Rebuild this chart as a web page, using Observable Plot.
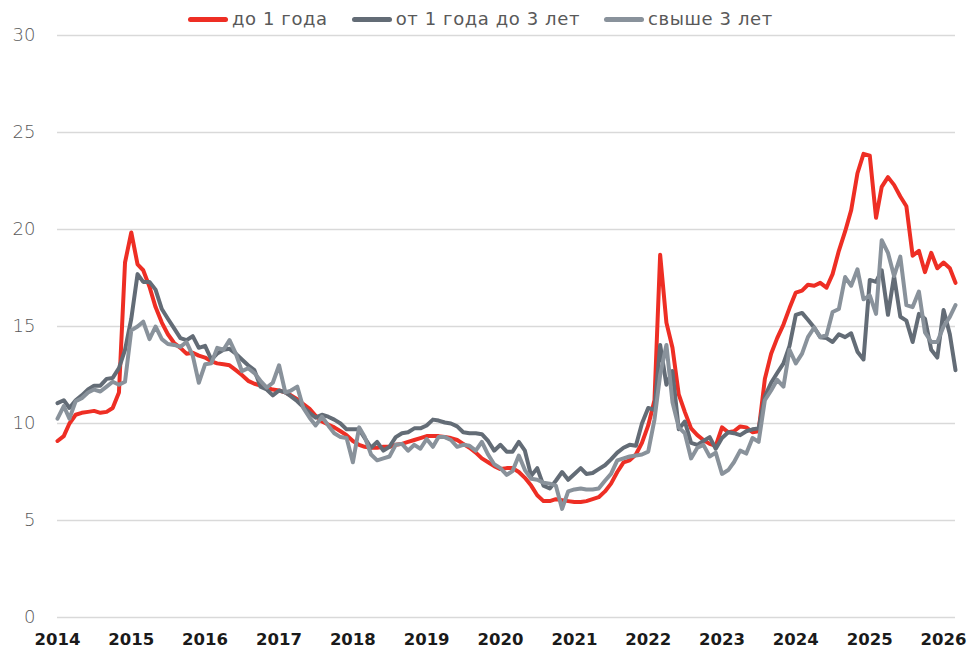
<!DOCTYPE html>
<html>
<head>
<meta charset="utf-8">
<script src="https://cdn.jsdelivr.net/npm/d3@7"></script>
<script src="https://cdn.jsdelivr.net/npm/@observablehq/plot@0.6"></script>
<style>
  body { margin: 0; background: #fff; }
  #wrap { position: relative; width: 970px; height: 653px; overflow: hidden; }
  #legend { position: absolute; top: 8px; left: 188px; display: flex; gap: 24px;
            font-family: "DejaVu Sans", sans-serif; font-size: 18px; letter-spacing: 0.6px;
            color: #595959; line-height: 22px; }
  .item { display: flex; align-items: center; }
  .sw { width: 40px; height: 5px; border-radius: 3px; margin-right: 4px; }
</style>
</head>
<body>
<div id="wrap"><div id="legend"></div><div id="chart"></div></div>
<script>
// Monthly series, Jan 2014 .. Mar 2026
const startYear = 2014;
const seriesNames = ["до 1 года", "от 1 года до 3 лет", "свыше 3 лет"];
const seriesColors = ["#ee2e24", "#636c76", "#89929b"];

const upTo1y = [
  9.1, 9.35, 10.0, 10.45, 10.55, 10.6, 10.65, 10.55, 10.6, 10.8, 11.6, 18.3,
  19.85, 18.2, 17.9, 17.05, 16.0, 15.2, 14.6, 14.15, 13.9, 13.6, 13.65, 13.5,
  13.4, 13.2, 13.1, 13.05, 13.0, 12.75, 12.5, 12.2, 12.05, 11.95, 11.85, 11.75,
  11.7, 11.6, 11.45, 11.25, 11.0, 10.75, 10.4, 10.1, 9.95, 9.8, 9.6, 9.4,
  9.1, 8.9, 8.8, 8.75, 8.75, 8.8, 8.8, 8.9, 8.95, 9.05, 9.15, 9.25,
  9.35, 9.35, 9.35, 9.3, 9.25, 9.15, 8.95, 8.75, 8.5, 8.2, 8.0, 7.8,
  7.65, 7.7, 7.7, 7.5, 7.2, 6.8, 6.3, 6.0, 6.0, 6.1, 6.05, 6.0,
  5.95, 5.95, 6.0, 6.1, 6.2, 6.5, 6.9, 7.5, 8.0, 8.1, 8.4, 9.0,
  9.9, 11.2, 18.7, 15.2, 13.9, 11.5, 10.6, 9.75, 9.4, 9.15, 8.95, 8.85,
  9.8, 9.55, 9.6, 9.85, 9.8, 9.55, 9.6, 12.3, 13.6, 14.4, 15.1, 15.95,
  16.75, 16.85, 17.15, 17.1, 17.25, 17.0, 17.7, 18.9, 19.9, 21.0, 22.9, 23.9,
  23.8, 20.6, 22.2, 22.7, 22.3, 21.7, 21.2, 18.65, 18.9, 17.8, 18.8, 18.0,
  18.3, 18.0, 17.25
];
const from1to3y = [
  11.05, 11.2, 10.8, 11.2, 11.45, 11.75, 11.95, 11.95, 12.3, 12.35, 12.85, 13.8,
  15.4, 17.7, 17.3, 17.3, 16.9, 15.9, 15.4, 14.9, 14.4, 14.3, 14.5, 13.9,
  14.0, 13.3, 13.6, 13.8, 13.85, 13.6, 13.3, 13.0, 12.75, 11.9, 11.75, 11.45,
  11.7, 11.6, 11.4, 11.15, 10.85, 10.55, 10.3, 10.45, 10.35, 10.2, 10.0, 9.7,
  9.7, 9.7, 9.25, 8.75, 9.05, 8.6, 8.8, 9.3, 9.5, 9.55, 9.75, 9.75,
  9.9, 10.2, 10.15, 10.05, 10.0, 9.85, 9.55, 9.5, 9.5, 9.45, 9.1, 8.6,
  8.9, 8.55, 8.55, 9.05, 8.6, 7.3, 7.7, 6.8, 6.65, 7.05, 7.5, 7.1,
  7.4, 7.7, 7.4, 7.45, 7.65, 7.85, 8.15, 8.5, 8.75, 8.9, 8.85, 10.0,
  10.8, 10.7, 14.05, 12.0, 12.7, 9.7, 10.1, 9.0, 8.9, 9.1, 9.3, 8.7,
  9.25, 9.55, 9.5, 9.4, 9.6, 9.7, 9.75, 11.4, 12.1, 12.6, 13.1, 14.0,
  15.6, 15.7, 15.35, 14.95, 14.45, 14.4, 14.2, 14.6, 14.45, 14.65, 13.7, 13.3,
  17.4, 17.3, 17.9, 15.6, 17.6, 15.5, 15.3, 14.2, 15.65, 15.4, 13.8, 13.4,
  15.85, 14.6, 12.75
];
const over3y = [
  10.25, 10.9, 10.25, 11.15, 11.3, 11.6, 11.75, 11.65, 11.9, 12.15, 12.0, 12.15,
  14.8, 15.0, 15.25, 14.35, 15.0, 14.35, 14.1, 14.05, 13.95, 14.2, 13.5, 12.1,
  13.05, 13.1, 13.9, 13.8, 14.3, 13.6, 12.7, 12.85, 12.6, 12.2, 11.85, 12.1,
  13.0, 11.6, 11.7, 11.9, 10.8, 10.3, 9.9, 10.35, 9.9, 9.5, 9.3, 9.25,
  8.0, 9.8, 9.3, 8.4, 8.1, 8.2, 8.3, 8.9, 8.95, 8.6, 8.9, 8.7,
  9.2, 8.8, 9.3, 9.3, 9.15, 8.8, 8.9, 8.85, 8.6, 9.05, 8.4, 7.9,
  7.7, 7.35, 7.55, 8.35, 7.6, 7.15, 7.1, 6.95, 6.9, 6.8, 5.6, 6.5,
  6.6, 6.65, 6.6, 6.6, 6.65, 7.05, 7.4, 8.1, 8.2, 8.3, 8.35, 8.4,
  8.55, 10.2, 12.5, 14.05, 11.1, 9.8, 9.5, 8.2, 8.75, 8.9, 8.3, 8.5,
  7.4, 7.6, 8.0, 8.6, 8.45, 9.25, 9.05, 11.2, 11.7, 12.25, 11.9, 13.8,
  13.1, 13.6, 14.45, 14.95, 14.45, 14.55, 15.75, 15.9, 17.55, 17.1, 17.95, 16.4,
  16.6, 15.65, 19.45, 18.8, 17.6, 18.6, 16.1, 16.0, 16.8, 14.7, 14.2, 14.2,
  15.0, 15.5, 16.1
];
const yTicks = [0, 5, 10, 15, 20, 25, 30];
const yearTicks = [2014, 2015, 2016, 2017, 2018, 2019, 2020, 2021, 2022, 2023, 2024, 2025, 2026];

const seriesValues = [upTo1y, from1to3y, over3y];
const data = [];
seriesValues.forEach((vals, s) => {
  vals.forEach((v, i) => data.push({series: seriesNames[s], date: new Date(Date.UTC(startYear, i, 1)), value: v}));
});
const lastDate = new Date(Date.UTC(startYear, upTo1y.length - 1, 1));
const yearDates = yearTicks.map(y => new Date(Date.UTC(y, 0, 1)));

// legend
const legend = document.getElementById("legend");
seriesNames.forEach((n, i) => {
  const it = document.createElement("div"); it.className = "item";
  const sw = document.createElement("div"); sw.className = "sw"; sw.style.background = seriesColors[i];
  const tx = document.createElement("span"); tx.textContent = n;
  it.appendChild(sw); it.appendChild(tx); legend.appendChild(it);
});

const chart = Plot.plot({
  width: 970,
  height: 653,
  marginTop: 35,
  marginBottom: 36,
  marginLeft: 57,
  marginRight: 15,
  style: {background: "#fff"},
  x: {type: "utc", domain: [new Date(Date.UTC(startYear, 0, 1)), lastDate]},
  y: {domain: [0, 30]},
  color: {domain: seriesNames, range: seriesColors},
  marks: [
    Plot.gridY(yTicks, {stroke: "#d9d9d9", strokeOpacity: 1, strokeWidth: 1.5}),
    Plot.axisY(yTicks, {tickSize: 0, tickPadding: 22, fontSize: 18, fontWeight: 300,
      fontFamily: "DejaVu Sans", color: "#595959", label: null}),
    Plot.axisX(yearDates, {tickSize: 0, tickPadding: 16, fontSize: 16.5, fontWeight: "bold",
      fontFamily: "DejaVu Sans", color: "#1a1a1a", label: null, tickFormat: d => String(d.getUTCFullYear())}),
    Plot.line(data, {x: "date", y: "value", z: "series", stroke: "series", strokeWidth: 4,
      strokeLinejoin: "round", strokeLinecap: "round"})
  ]
});
document.getElementById("chart").appendChild(chart);
</script>
</body>
</html>
